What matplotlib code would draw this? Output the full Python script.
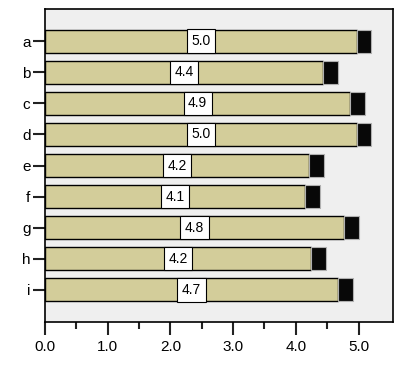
import matplotlib
matplotlib.use("Agg")
import matplotlib.pyplot as plt
from matplotlib.ticker import FixedLocator

categories = ["a", "b", "c", "d", "e", "f", "g", "h", "i"]
values = [4.97, 4.43, 4.87, 4.97, 4.21, 4.15, 4.77, 4.24, 4.67]
errors = [0.23, 0.24, 0.23, 0.23, 0.24, 0.23, 0.23, 0.24, 0.24]
labels = ["5.0", "4.4", "4.9", "5.0", "4.2", "4.1", "4.8", "4.2", "4.7"]
xticks = [0, 1, 2, 3, 4, 5]
xminor = [0.5, 1.5, 2.5, 3.5, 4.5]
xticklabels = ["0.0", "1.0", "2.0", "3.0", "4.0", "5.0"]

plt.rcParams['font.family'] = ['Liberation Sans', 'DejaVu Sans']

fig = plt.figure(figsize=(4.01, 3.71), dpi=100)
ax = fig.add_axes([45/401, 49/371, 348/401, 313/371])
ax.set_facecolor("#efefef")

ypos = list(range(len(categories)))
ax.barh(ypos, values, height=0.74, color="#d3cd9a", edgecolor="black", linewidth=1.0, zorder=2)
ax.barh(ypos, errors, left=values, height=0.74, color="#080808", edgecolor="#b0b0b0", linewidth=0.8, zorder=2)

for y, v, lab in zip(ypos, values, labels):
    ax.text(v / 2, y, lab, ha="center", va="center", fontsize=10, zorder=4,
            bbox=dict(boxstyle="square,pad=0.33", facecolor="white", edgecolor="black", linewidth=0.8))

ax.set_ylim(len(categories) - 1 + 1.03, -1.03)
ax.set_xlim(0, 5.55)
ax.set_yticks(ypos)
ax.set_yticklabels(categories, fontsize=11)
ax.set_xticks(xticks)
ax.set_xticklabels(xticklabels, fontsize=11)
ax.xaxis.set_minor_locator(FixedLocator(xminor))
ax.tick_params(axis="x", which="major", length=9, width=1.5, color="#222222", pad=4)
ax.tick_params(axis="x", which="minor", length=5, width=1.5, color="#222222")
ax.tick_params(axis="y", which="major", length=9, width=1.5, color="#222222", pad=1.5)
for s in ax.spines.values():
    s.set_linewidth(1.2)
    s.set_color("black")

fig.savefig("out.png", dpi=100)
